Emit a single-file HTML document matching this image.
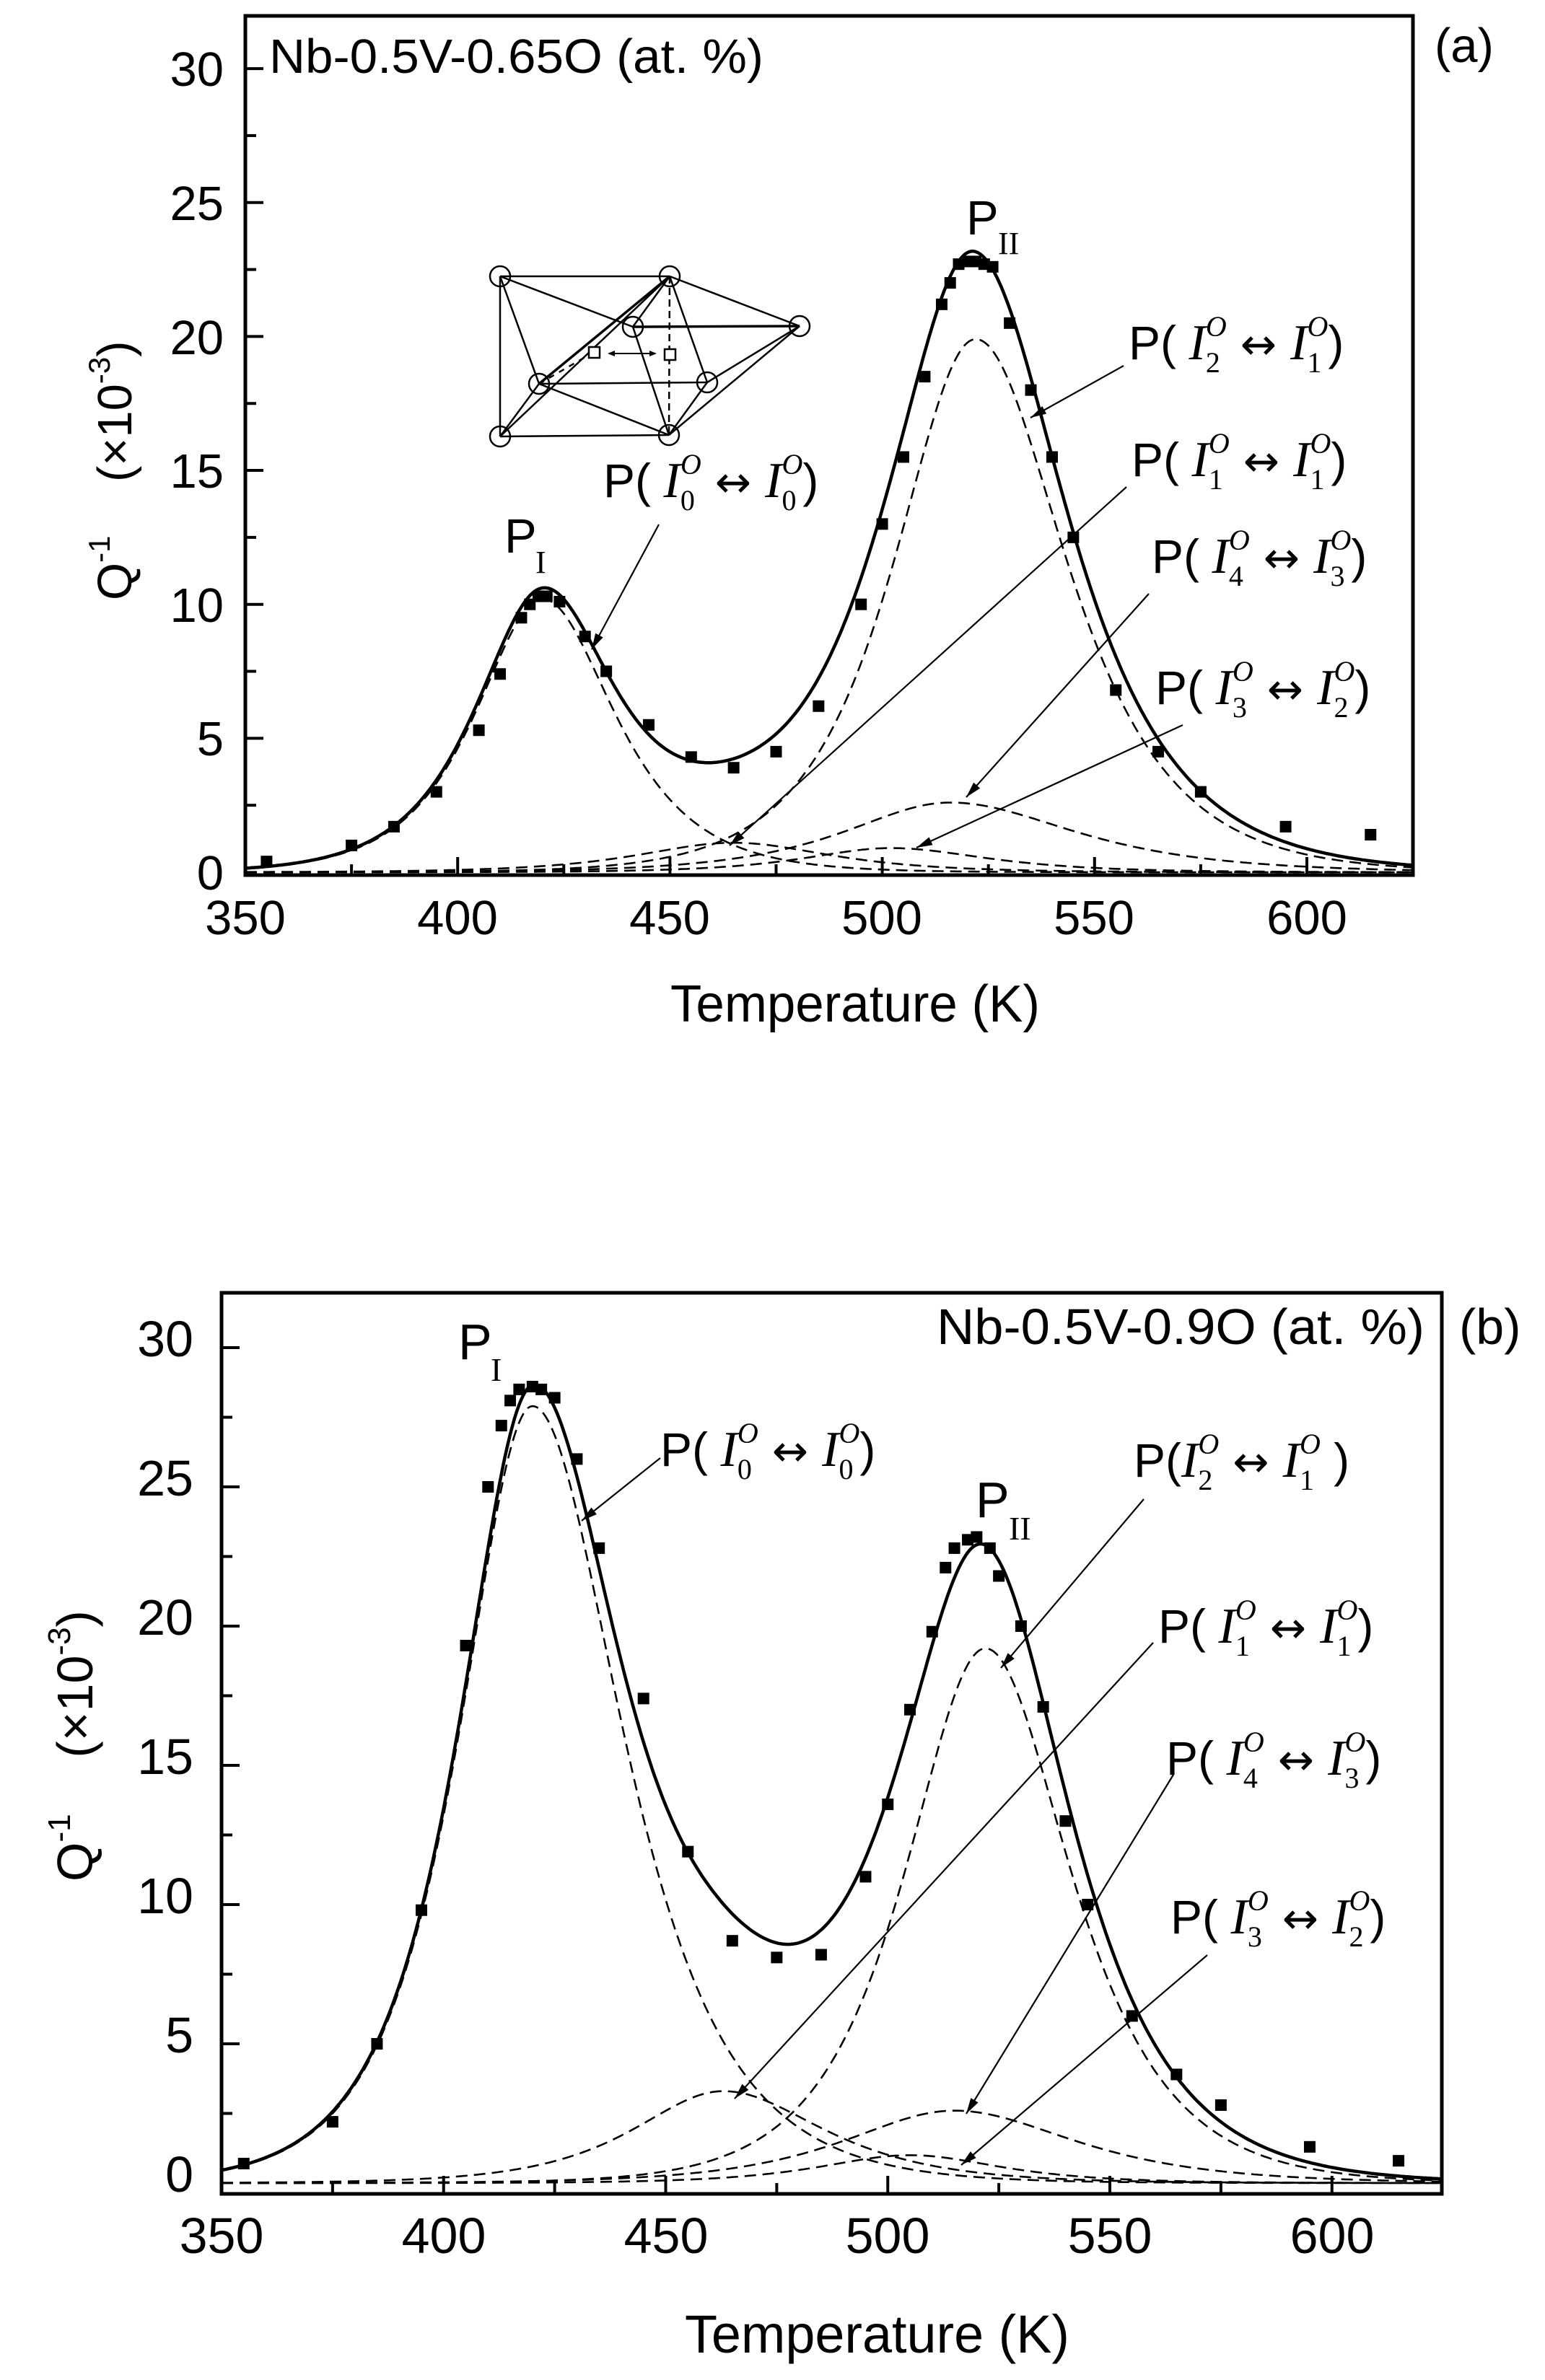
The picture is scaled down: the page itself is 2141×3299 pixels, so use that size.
<!DOCTYPE html>
<html><head><meta charset="utf-8">
<style>
html,body{margin:0;padding:0;background:#fff;}
svg{display:block;}
.t{font-family:"Liberation Sans",sans-serif;fill:#000;}
.s{font-family:"Liberation Serif",serif;fill:#000;}
.ar{font-family:"DejaVu Sans",sans-serif;fill:#000;}
</style></head>
<body>
<svg id="svg" width="2141" height="3299" viewBox="0 0 2141 3299" xmlns="http://www.w3.org/2000/svg">
<rect width="2141" height="3299" fill="#fff"/>
<g id="plots"></g>

<g class="t" font-size="67">
<text x="310" y="119" text-anchor="end">30</text>
<text x="310" y="305" text-anchor="end">25</text>
<text x="310" y="491" text-anchor="end">20</text>
<text x="310" y="676" text-anchor="end">15</text>
<text x="310" y="862" text-anchor="end">10</text>
<text x="310" y="1047" text-anchor="end">5</text>
<text x="310" y="1233" text-anchor="end">0</text>
<text x="340" y="1295" text-anchor="middle">350</text>
<text x="634" y="1295" text-anchor="middle">400</text>
<text x="928" y="1295" text-anchor="middle">450</text>
<text x="1222" y="1295" text-anchor="middle">500</text>
<text x="1516" y="1295" text-anchor="middle">550</text>
<text x="1811" y="1295" text-anchor="middle">600</text>
<text x="373" y="101" textLength="685" lengthAdjust="spacingAndGlyphs">Nb-0.5V-0.65O (at. %)</text>
<text x="1988" y="86">(a)</text>
<text x="929" y="1416" font-size="72" textLength="512" lengthAdjust="spacingAndGlyphs">Temperature (K)</text>
<text transform="translate(182,832) rotate(-90)">Q<tspan font-size="42" dy="-30">-1</tspan><tspan dy="30" xml:space="preserve">    (×10</tspan><tspan font-size="42" dy="-30">-3</tspan><tspan dy="30">)</tspan></text>
<text x="699" y="766">P</text>
<text x="1339" y="325">P</text>
</g>
<g class="s" font-size="44">
<text x="742" y="794">I</text>
<text x="1383" y="352">II</text>
</g>

<g class="t" font-size="70">
<text x="268" y="1880" text-anchor="end">30</text>
<text x="268" y="2073" text-anchor="end">25</text>
<text x="268" y="2266" text-anchor="end">20</text>
<text x="268" y="2459" text-anchor="end">15</text>
<text x="268" y="2652" text-anchor="end">10</text>
<text x="268" y="2845" text-anchor="end">5</text>
<text x="268" y="3038" text-anchor="end">0</text>
<text x="307" y="3123" text-anchor="middle">350</text>
<text x="615" y="3123" text-anchor="middle">400</text>
<text x="923" y="3123" text-anchor="middle">450</text>
<text x="1230" y="3123" text-anchor="middle">500</text>
<text x="1538" y="3123" text-anchor="middle">550</text>
<text x="1846" y="3123" text-anchor="middle">600</text>
<text x="1298" y="1863" textLength="676" lengthAdjust="spacingAndGlyphs">Nb-0.5V-0.9O (at. %)</text>
<text x="2022" y="1863">(b)</text>
<text x="949" y="3261" font-size="74" textLength="533" lengthAdjust="spacingAndGlyphs">Temperature (K)</text>
<text transform="translate(128,2608) rotate(-90)">Q<tspan font-size="44" dy="-31">-1</tspan><tspan dy="31" xml:space="preserve">    (×10</tspan><tspan font-size="44" dy="-31">-3</tspan><tspan dy="31">)</tspan></text>
<text x="635" y="1884">P</text>
<text x="1352" y="2103">P</text>
</g>
<g class="s" font-size="46">
<text x="680" y="1914">I</text>
<text x="1398" y="2134">II</text>
</g>

<g font-size="66">
<text class="t" x="836" y="689">P(<tspan class="s" font-style="italic" font-size="70"> I</tspan><tspan class="s" font-size="40" dy="18">0</tspan><tspan class="s" font-size="40" font-style="italic" dx="-20" dy="-50">O</tspan><tspan class="ar" font-size="60" dy="32" xml:space="preserve"> ↔ </tspan><tspan class="s" font-style="italic" font-size="70">I</tspan><tspan class="s" font-size="40" dy="18">0</tspan><tspan class="s" font-size="40" font-style="italic" dx="-20" dy="-50">O</tspan><tspan dy="32">)</tspan></text>
<text class="t" x="1564" y="498">P(<tspan class="s" font-style="italic" font-size="70"> I</tspan><tspan class="s" font-size="40" dy="18">2</tspan><tspan class="s" font-size="40" font-style="italic" dx="-20" dy="-50">O</tspan><tspan class="ar" font-size="60" dy="32" xml:space="preserve"> ↔ </tspan><tspan class="s" font-style="italic" font-size="70">I</tspan><tspan class="s" font-size="40" dy="18">1</tspan><tspan class="s" font-size="40" font-style="italic" dx="-20" dy="-50">O</tspan><tspan dy="32">)</tspan></text>
<text class="t" x="1568" y="660">P(<tspan class="s" font-style="italic" font-size="70"> I</tspan><tspan class="s" font-size="40" dy="18">1</tspan><tspan class="s" font-size="40" font-style="italic" dx="-20" dy="-50">O</tspan><tspan class="ar" font-size="60" dy="32" xml:space="preserve"> ↔ </tspan><tspan class="s" font-style="italic" font-size="70">I</tspan><tspan class="s" font-size="40" dy="18">1</tspan><tspan class="s" font-size="40" font-style="italic" dx="-20" dy="-50">O</tspan><tspan dy="32">)</tspan></text>
<text class="t" x="1596" y="794">P(<tspan class="s" font-style="italic" font-size="70"> I</tspan><tspan class="s" font-size="40" dy="18">4</tspan><tspan class="s" font-size="40" font-style="italic" dx="-20" dy="-50">O</tspan><tspan class="ar" font-size="60" dy="32" xml:space="preserve"> ↔ </tspan><tspan class="s" font-style="italic" font-size="70">I</tspan><tspan class="s" font-size="40" dy="18">3</tspan><tspan class="s" font-size="40" font-style="italic" dx="-20" dy="-50">O</tspan><tspan dy="32">)</tspan></text>
<text class="t" x="1601" y="976">P(<tspan class="s" font-style="italic" font-size="70"> I</tspan><tspan class="s" font-size="40" dy="18">3</tspan><tspan class="s" font-size="40" font-style="italic" dx="-20" dy="-50">O</tspan><tspan class="ar" font-size="60" dy="32" xml:space="preserve"> ↔ </tspan><tspan class="s" font-style="italic" font-size="70">I</tspan><tspan class="s" font-size="40" dy="18">2</tspan><tspan class="s" font-size="40" font-style="italic" dx="-20" dy="-50">O</tspan><tspan dy="32">)</tspan></text>

<text class="t" x="915" y="2032">P(<tspan class="s" font-style="italic" font-size="70"> I</tspan><tspan class="s" font-size="40" dy="18">0</tspan><tspan class="s" font-size="40" font-style="italic" dx="-20" dy="-50">O</tspan><tspan class="ar" font-size="60" dy="32" xml:space="preserve"> ↔ </tspan><tspan class="s" font-style="italic" font-size="70">I</tspan><tspan class="s" font-size="40" dy="18">0</tspan><tspan class="s" font-size="40" font-style="italic" dx="-20" dy="-50">O</tspan><tspan dy="32">)</tspan></text>
<text class="t" x="1571" y="2047">P(<tspan class="s" font-style="italic" font-size="70">I</tspan><tspan class="s" font-size="40" dy="18">2</tspan><tspan class="s" font-size="40" font-style="italic" dx="-20" dy="-50">O</tspan><tspan class="ar" font-size="60" dy="32" xml:space="preserve"> ↔ </tspan><tspan class="s" font-style="italic" font-size="70">I</tspan><tspan class="s" font-size="40" dy="18">1</tspan><tspan class="s" font-size="40" font-style="italic" dx="-20" dy="-50">O</tspan><tspan dy="32" xml:space="preserve"> )</tspan></text>
<text class="t" x="1605" y="2277">P(<tspan class="s" font-style="italic" font-size="70"> I</tspan><tspan class="s" font-size="40" dy="18">1</tspan><tspan class="s" font-size="40" font-style="italic" dx="-20" dy="-50">O</tspan><tspan class="ar" font-size="60" dy="32" xml:space="preserve"> ↔ </tspan><tspan class="s" font-style="italic" font-size="70">I</tspan><tspan class="s" font-size="40" dy="18">1</tspan><tspan class="s" font-size="40" font-style="italic" dx="-20" dy="-50">O</tspan><tspan dy="32">)</tspan></text>
<text class="t" x="1616" y="2460">P(<tspan class="s" font-style="italic" font-size="70"> I</tspan><tspan class="s" font-size="40" dy="18">4</tspan><tspan class="s" font-size="40" font-style="italic" dx="-20" dy="-50">O</tspan><tspan class="ar" font-size="60" dy="32" xml:space="preserve"> ↔ </tspan><tspan class="s" font-style="italic" font-size="70">I</tspan><tspan class="s" font-size="40" dy="18">3</tspan><tspan class="s" font-size="40" font-style="italic" dx="-20" dy="-50">O</tspan><tspan dy="32">)</tspan></text>
<text class="t" x="1622" y="2680">P(<tspan class="s" font-style="italic" font-size="70"> I</tspan><tspan class="s" font-size="40" dy="18">3</tspan><tspan class="s" font-size="40" font-style="italic" dx="-20" dy="-50">O</tspan><tspan class="ar" font-size="60" dy="32" xml:space="preserve"> ↔ </tspan><tspan class="s" font-style="italic" font-size="70">I</tspan><tspan class="s" font-size="40" dy="18">2</tspan><tspan class="s" font-size="40" font-style="italic" dx="-20" dy="-50">O</tspan><tspan dy="32">)</tspan></text>
</g>

<g stroke="#000" stroke-width="2.5" fill="none">
<line x1="693" y1="383" x2="928" y2="383"/>
<line x1="693" y1="383" x2="693" y2="605"/>
<line x1="693" y1="605" x2="927" y2="603"/>
<line x1="928" y1="383" x2="927" y2="603" stroke-dasharray="10,6"/>
<line x1="693" y1="383" x2="877" y2="453"/>
<line x1="693" y1="383" x2="747" y2="532"/>
<line x1="928" y1="383" x2="747" y2="532" stroke-width="3.5"/>
<line x1="928" y1="383" x2="877" y2="453"/>
<line x1="928" y1="383" x2="1108" y2="452"/>
<line x1="928" y1="383" x2="980" y2="530"/>
<line x1="877" y1="453" x2="1108" y2="452" stroke-width="3.5"/>
<line x1="877" y1="453" x2="927" y2="603"/>
<line x1="747" y1="532" x2="980" y2="530"/>
<line x1="747" y1="532" x2="927" y2="603"/>
<line x1="693" y1="605" x2="928" y2="383"/>
<line x1="693" y1="605" x2="747" y2="532"/>
<line x1="927" y1="603" x2="980" y2="530"/>
<line x1="927" y1="603" x2="1108" y2="452"/>
<line x1="980" y1="530" x2="1108" y2="452"/>
<line x1="747" y1="532" x2="823" y2="488" stroke-dasharray="8,8"/>
<circle cx="693" cy="383" r="14"/><circle cx="928" cy="383" r="14"/>
<circle cx="877" cy="453" r="14"/><circle cx="1108" cy="452" r="14"/>
<circle cx="747" cy="532" r="14"/><circle cx="980" cy="530" r="14"/>
<circle cx="693" cy="605" r="14"/><circle cx="927" cy="603" r="14"/>
<rect x="816" y="481" width="15" height="15" fill="#fff"/>
<rect x="921" y="484" width="15" height="15" fill="#fff"/>
<line x1="844" y1="490" x2="908" y2="490" stroke-width="2"/>
</g>
<path d="M842 490 l10 -4 v8z M910 490 l-10 -4 v8z" fill="#000"/>
</svg>

<script>
(function(){
var NS="http://www.w3.org/2000/svg";
var G=document.getElementById("plots");
function el(n,a){var e=document.createElementNS(NS,n);for(var k in a)e.setAttribute(k,a[k]);G.appendChild(e);return e;}
function sech(x){return 2/(Math.exp(x)+Math.exp(-x));}
function comp(c,T){var w=T<c[1]?c[2]:c[3];return c[0]*sech((T-c[1])/w);}
function arrow(x1,y1,x2,y2){
  el("line",{x1:x1,y1:y1,x2:x2,y2:y2,stroke:"#000","stroke-width":2.2});
  var a=Math.atan2(y2-y1,x2-x1),L=22,W=6;
  var bx=x2-L*Math.cos(a),by=y2-L*Math.sin(a);
  var px=-Math.sin(a)*W,py=Math.cos(a)*W;
  el("path",{d:"M"+x2+" "+y2+"L"+(bx+px)+" "+(by+py)+"L"+(bx-px)+" "+(by-py)+"Z",fill:"#000"});
}
function plot(P){
  var X=function(T){return P.x0+(T-350)*P.kx;}, Y=function(v){return P.y0-v*P.ky;};
  var id="clip"+P.name;
  var cp=el("clipPath",{id:id});
  var r=document.createElementNS(NS,"rect");
  r.setAttribute("x",P.L);r.setAttribute("y",P.T);r.setAttribute("width",P.R-P.L);r.setAttribute("height",P.B-P.T);
  cp.appendChild(r);
  P.comps.forEach(function(c){
    var d="";
    for(var T=350;T<=626;T+=0.5){d+=(d?"L":"M")+X(T).toFixed(1)+" "+Y(comp(c,T)).toFixed(1);}
    el("path",{d:d,fill:"none",stroke:"#000","stroke-width":2.6,"stroke-dasharray":"16,9","clip-path":"url(#"+id+")"});
  });
  var d="";
  for(var T=350;T<=626;T+=0.5){var s=0;P.comps.forEach(function(c){s+=comp(c,T);});d+=(d?"L":"M")+X(T).toFixed(1)+" "+Y(s).toFixed(1);}
  el("path",{d:d,fill:"none",stroke:"#000","stroke-width":4.5,"clip-path":"url(#"+id+")"});
  P.data.forEach(function(p){var x=X(p[0]),y=Y(p[1]);el("rect",{x:x-8,y:y-8,width:16,height:16,fill:"#000"});});
  el("rect",{x:P.L,y:P.T,width:P.R-P.L,height:P.B-P.T,fill:"none",stroke:"#000","stroke-width":5});
  for(var T=375;T<625;T+=25){var maj=(T%50==0);var x=X(T);el("line",{x1:x,y1:P.B,x2:x,y2:P.B-(maj?25:15),stroke:"#000","stroke-width":4});}
  for(var v=2.5;v<=31;v+=2.5){var maj=(v%5==0);var y=Y(v);if(y<P.T+3)continue;el("line",{x1:P.L,y1:y,x2:P.L+(maj?25:15),y2:y,stroke:"#000","stroke-width":4});}
  P.arrows.forEach(function(a){arrow(a[0],a[1],a[2],a[3]);});
}
plot({name:"a",x0:340,kx:5.884,y0:1209,ky:37.13,L:340,R:1958,T:22,B:1213,
 comps:[[10.2,420,14,15],[19.9,522,17,19],[1.1,465,20,20],[2.6,516,22,26],[0.9,502,18,20]],
 data:[[355,0.4],[375,1.0],[385,1.7],[395,3.0],[405,5.3],[410,7.4],[415,9.5],[417,10],[419,10.3],[421,10.3],[424,10.1],[430,8.8],[435,7.5],[445,5.5],[455,4.3],[465,3.9],[475,4.5],[485,6.2],[495,10],[500,13],[505,15.5],[510,18.5],[514,21.2],[516,22],[518,22.7],[520,22.8],[522,22.8],[524,22.7],[526,22.6],[530,20.5],[535,18],[540,15.5],[545,12.5],[555,6.8],[565,4.5],[575,3.0],[595,1.7],[615,1.4]],
 arrows:[[913,727,820,900],[1557,507,1428,579],[1561,675,1011,1172],[1592,823,1339,1105],[1639,1005,1270,1175]]});
plot({name:"b",x0:307,kx:6.155,y0:3026,ky:38.6,L:307,R:1998,T:1792,B:3041,
 comps:[[27.9,420,14.5,18],[3.3,463,18,20],[19.2,522,16,17],[2.6,515,22,24],[1.0,505,18,18]],
 data:[[355,0.7],[375,2.2],[385,5],[395,9.8],[405,19.3],[410,25],[413,27.2],[415,28.1],[417,28.5],[420,28.6],[422,28.5],[425,28.2],[430,26],[435,22.8],[445,17.4],[455,11.9],[465,8.7],[475,8.1],[485,8.2],[495,11],[500,13.6],[505,17],[510,19.8],[513,22.1],[515,22.8],[518,23.1],[520,23.2],[523,22.8],[525,21.8],[530,20],[535,17.1],[540,13],[545,10],[555,6],[565,3.9],[575,2.8],[595,1.3],[615,0.8]],
 arrows:[[915,2021,806,2108],[1585,2078,1387,2312],[1598,2277,1018,2909],[1626,2460,1339,2930],[1673,2710,1332,3001]]});
})();
</script>
</body></html>
